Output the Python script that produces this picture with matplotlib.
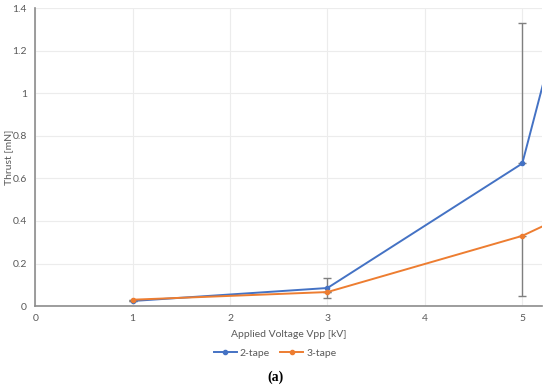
import matplotlib.pyplot as plt
from matplotlib.ticker import FuncFormatter

# data (last point lies beyond the visible x range)
voltage = [1, 3, 5, 6]
thrust_2tape = [0.024, 0.085, 0.67, 2.42]
thrust_3tape = [0.030, 0.066, 0.33, 0.545]

# error bars as drawn (gray): 2-tape at 3 kV and 5 kV (upper), 3-tape at 5 kV (lower)
err_2tape_lo = [0, 0.047, 0, 0]
err_2tape_hi = [0, 0.047, 0.66, 0]
err_3tape_lo = [0, 0, 0.283, 0]
err_3tape_hi = [0, 0, 0, 0]

blue = '#4472C4'
orange = '#ED7D31'
grey_txt = '#595959'

plt.rcParams['font.family'] = ['Lato', 'DejaVu Sans']

fig = plt.figure(figsize=(5.5, 3.86), dpi=100)
ax = fig.add_axes([0.064, 0.207, 0.921, 0.772])

ax.errorbar(voltage, thrust_2tape, yerr=[err_2tape_lo, err_2tape_hi], fmt='none',
            ecolor='#7f7f7f', elinewidth=1, capsize=3, capthick=1, zorder=2)
ax.errorbar(voltage, thrust_3tape, yerr=[err_3tape_lo, err_3tape_hi], fmt='none',
            ecolor='#7f7f7f', elinewidth=1, capsize=3, capthick=1, zorder=2)
ax.plot(voltage, thrust_2tape, color=blue, lw=1.4, marker='o', ms=3, label='2-tape', zorder=3)
ax.plot(voltage, thrust_3tape, color=orange, lw=1.4, marker='o', ms=3, label='3-tape', zorder=3)

ax.set_xlim(0, 5.2)
ax.set_ylim(0, 1.4)
ax.set_xticks(range(0, 6))
ax.set_yticks([0, 0.2, 0.4, 0.6, 0.8, 1.0, 1.2, 1.4])
ax.yaxis.set_major_formatter(FuncFormatter(lambda v, p: '%g' % round(v, 2)))

ax.grid(True, color='#ececec', lw=0.8)
ax.set_axisbelow(True)
for s in ['top', 'right']:
    ax.spines[s].set_visible(False)
ax.spines['left'].set_color('#8c8c8c')
ax.spines['bottom'].set_color('#8c8c8c')
ax.spines['left'].set_linewidth(1.2)
ax.spines['bottom'].set_linewidth(1.2)
ax.tick_params(length=0, labelsize=7.5, colors=grey_txt, pad=6)

ax.set_xlabel('Applied Voltage Vpp [kV]', fontsize=7.5, color=grey_txt, labelpad=5)
ax.set_ylabel('Thrust [mN]', fontsize=7.5, color=grey_txt, va='center')
ax.yaxis.set_label_coords(-0.053, 0.5)

fig.legend(loc='center', bbox_to_anchor=(0.5, 1 - 353 / 386), ncol=2, frameon=False,
           fontsize=7.5, labelcolor=grey_txt, handlelength=2.2, handletextpad=0.3,
           columnspacing=1.0)
fig.text(0.5, 1 - 377 / 386, '(a)', ha='center', va='center', fontsize=10,
         fontweight='bold', family='Liberation Serif')

fig.savefig('out.png', dpi=100)
